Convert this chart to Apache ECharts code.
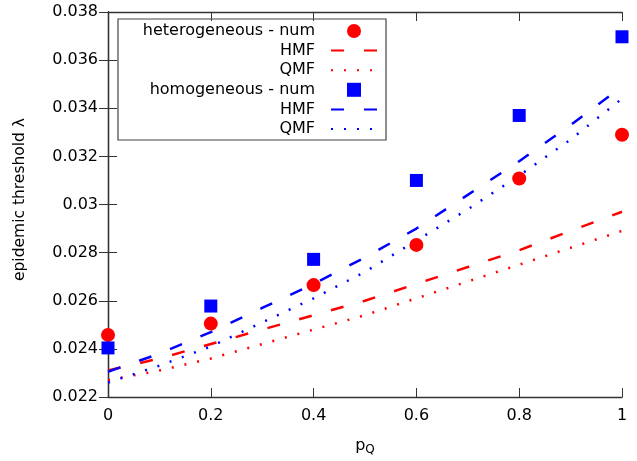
<!DOCTYPE html>
<html>
<head>
<meta charset="utf-8">
<script src="https://cdn.jsdelivr.net/npm/echarts@6/dist/echarts.min.js"></script>
<style>html,body{margin:0;padding:0;background:#fff;}#c{width:637px;height:461px;}</style>
</head>
<body>
<div id="c"></div>
<script>
var xNum = [0, 0.2, 0.4, 0.6, 0.8, 1.0];
var hetNum = [0.02458, 0.02505, 0.02665, 0.02832, 0.03108, 0.03290];
var homNum = [0.02404, 0.02578, 0.02772, 0.03100, 0.03370, 0.03697];
var xTheory = [0, 0.1, 0.2, 0.3, 0.4, 0.5, 0.6, 0.7, 0.8, 0.9, 1.0];
var hetHMF = [0.0231, 0.0236, 0.0242, 0.0248, 0.0254, 0.0260, 0.0267, 0.0274, 0.0281, 0.0289, 0.0297];
var hetQMF = [0.0227, 0.0231, 0.0236, 0.0242, 0.0248, 0.0254, 0.0261, 0.0268, 0.0275, 0.0282, 0.0289];
var homHMF = [0.02305, 0.0238, 0.0247, 0.0257, 0.0267, 0.0278, 0.0290, 0.0304, 0.0318, 0.0333, 0.0349];
var homQMF = [0.0226, 0.0233, 0.0241, 0.0251, 0.0261, 0.0272, 0.0285, 0.0298, 0.0312, 0.0327, 0.0344];
var legendLabels = {
  hetNum: 'heterogeneous - num', hetHMF: 'HMF', hetQMF: 'QMF',
  homNum: 'homogeneous - num', homHMF: 'HMF', homQMF: 'QMF'
};

function pairs(xs, ys) { return xs.map(function (x, i) { return [x, ys[i]]; }); }

var FONT = 'DejaVu Sans';
var RED = '#ff0000', BLUE = '#0000ff', AX = '#333333';
var SQUARE = 'path://M0,0L10,0L10,10L0,10Z';

var chart = echarts.init(document.getElementById('c'), null, {renderer: 'canvas'});
var tickStyle = {show: true, inside: true, length: 9, lineStyle: {color: AX, width: 1}};
var lineStyleAx = {show: true, lineStyle: {color: AX, width: 1.3}};

chart.setOption({
  animation: false,
  backgroundColor: '#fff',
  textStyle: {fontFamily: FONT},
  grid: {left: 108, right: 15, top: 12, bottom: 63},
  legend: {
    left: 118, top: 19,
    orient: 'vertical',
    align: 'right',
    itemWidth: 46, itemHeight: 14, itemGap: 3.6,
    padding: [4, 8, 3, 15],
    borderColor: '#444', borderWidth: 1.2,
    data: [
      {name: 'hetNum', icon: 'circle'},
      {name: 'hetHMF', itemStyle: {opacity: 0}},
      {name: 'hetQMF', itemStyle: {opacity: 0}},
      {name: 'homNum', icon: SQUARE},
      {name: 'homHMF', itemStyle: {opacity: 0}},
      {name: 'homQMF', itemStyle: {opacity: 0}}
    ],
    symbolKeepAspect: true,
    formatter: function (n) { return legendLabels[n]; },
    textStyle: {fontFamily: FONT, fontSize: 16, lineHeight: 16, color: '#000', width: 182, align: 'right', padding: [0, 11, 0, 0]}
  },
  xAxis: [{
    type: 'value', min: 0, max: 1, interval: 0.2, position: 'bottom',
    axisLine: lineStyleAx, axisTick: tickStyle, splitLine: {show: false},
    axisLabel: {fontFamily: FONT, fontSize: 16, color: '#000', margin: 11},
    name: 'p{s|Q}', nameLocation: 'middle', nameGap: 39,
    nameTextStyle: {fontFamily: FONT, fontSize: 16, color: '#000', rich: {s: {fontFamily: FONT, fontSize: 12, verticalAlign: 'bottom', padding: [8, 0, 0, 0]}}}
  }, {
    type: 'value', min: 0, max: 1, interval: 0.2, position: 'top',
    axisLine: lineStyleAx, axisTick: tickStyle, splitLine: {show: false}, axisLabel: {show: false}
  }],
  yAxis: [{
    type: 'value', min: 0.022, max: 0.038, interval: 0.002, position: 'left',
    axisLine: lineStyleAx, axisTick: tickStyle, splitLine: {show: false},
    axisLabel: {fontFamily: FONT, fontSize: 16, color: '#000', margin: 10,
      formatter: function (v) { return String(parseFloat(v.toFixed(4))); }},
    name: 'epidemic threshold λ', nameLocation: 'middle', nameGap: 80,
    nameTextStyle: {fontFamily: FONT, fontSize: 15.5, color: '#000', padding: [0, 0, 0, 10]}
  }, {
    type: 'value', min: 0.022, max: 0.038, interval: 0.002, position: 'right',
    axisLine: lineStyleAx, axisTick: tickStyle, splitLine: {show: false}, axisLabel: {show: false}
  }],
  series: [
    {name: 'hetNum', type: 'scatter', data: pairs(xNum, hetNum), symbol: 'circle', symbolSize: 14,
      itemStyle: {color: RED, opacity: 1}, z: 5, clip: false},
    {name: 'hetHMF', type: 'line', data: pairs(xTheory, hetHMF), symbol: 'none', showSymbol: false,
      lineStyle: {color: RED, width: 2.5, type: [13, 20]}, itemStyle: {color: RED}},
    {name: 'hetQMF', type: 'line', data: pairs(xTheory, hetQMF), symbol: 'none', showSymbol: false,
      lineStyle: {color: RED, width: 2.5, type: [2, 11]}, itemStyle: {color: RED}},
    {name: 'homNum', type: 'scatter', data: pairs(xNum, homNum), symbol: 'rect', symbolSize: 13,
      itemStyle: {color: BLUE, opacity: 1}, z: 5, clip: false},
    {name: 'homHMF', type: 'line', data: pairs(xTheory, homHMF), symbol: 'none', showSymbol: false,
      lineStyle: {color: BLUE, width: 2.5, type: [13, 20]}, itemStyle: {color: BLUE}},
    {name: 'homQMF', type: 'line', data: pairs(xTheory, homQMF), symbol: 'none', showSymbol: false,
      lineStyle: {color: BLUE, width: 2.5, type: [2, 11]}, itemStyle: {color: BLUE}}
  ]
});
</script>
</body>
</html>
